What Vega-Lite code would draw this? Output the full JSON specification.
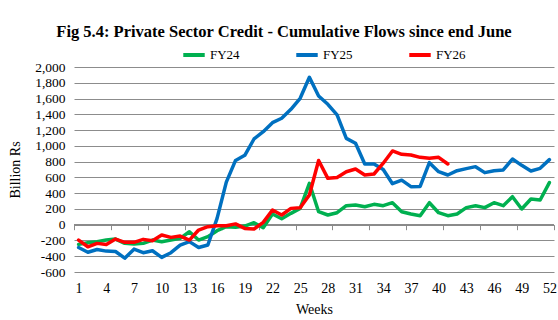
{
  "$schema": "https://vega.github.io/schema/vega-lite/v6.json",
  "width": 480,
  "height": 205,
  "autosize": {"type": "none"},
  "padding": {"left": 74, "top": 67, "right": 4, "bottom": 48},
  "background": "white",
  "title": {
    "text": "Fig 5.4: Private Sector Credit - Cumulative Flows since end June",
    "font": "Liberation Serif",
    "fontSize": 16.5,
    "fontWeight": "bold",
    "color": "#000000",
    "anchor": "middle",
    "frame": "group",
    "dx": -30,
    "offset": 2
  },
  "config": {
    "view": {"stroke": null},
    "font": "Liberation Serif",
    "axisY": {
      "labelOverlap": false,
      "ticks": false,
      "domain": false,
      "grid": true,
      "gridColor": "#8c8c8c",
      "gridWidth": 1,
      "labelFont": "Liberation Serif",
      "labelFontSize": 13.5,
      "labelColor": "#000000",
      "labelPadding": 9,
      "titleFont": "Liberation Serif",
      "titleFontSize": 14,
      "titleFontWeight": "normal",
      "titleColor": "#000000",
      "titlePadding": 12
    }
  },
  "datasets": {
    "credit": [
      {"week": 1, "series": "FY24", "value": -250}, {"week": 2, "series": "FY24", "value": -228}, {"week": 3, "series": "FY24", "value": -216}, {"week": 4, "series": "FY24", "value": -195}, {"week": 5, "series": "FY24", "value": -182}, {"week": 6, "series": "FY24", "value": -237}, {"week": 7, "series": "FY24", "value": -245}, {"week": 8, "series": "FY24", "value": -237}, {"week": 9, "series": "FY24", "value": -195}, {"week": 10, "series": "FY24", "value": -216}, {"week": 11, "series": "FY24", "value": -195}, {"week": 12, "series": "FY24", "value": -173}, {"week": 13, "series": "FY24", "value": -89}, {"week": 14, "series": "FY24", "value": -195}, {"week": 15, "series": "FY24", "value": -152}, {"week": 16, "series": "FY24", "value": -76}, {"week": 17, "series": "FY24", "value": -25}, {"week": 18, "series": "FY24", "value": -34}, {"week": 19, "series": "FY24", "value": -17}, {"week": 20, "series": "FY24", "value": 25}, {"week": 21, "series": "FY24", "value": -38}, {"week": 22, "series": "FY24", "value": 135}, {"week": 23, "series": "FY24", "value": 76}, {"week": 24, "series": "FY24", "value": 144}, {"week": 25, "series": "FY24", "value": 207}, {"week": 26, "series": "FY24", "value": 525}, {"week": 27, "series": "FY24", "value": 165}, {"week": 28, "series": "FY24", "value": 123}, {"week": 29, "series": "FY24", "value": 152}, {"week": 30, "series": "FY24", "value": 241}, {"week": 31, "series": "FY24", "value": 250}, {"week": 32, "series": "FY24", "value": 228}, {"week": 33, "series": "FY24", "value": 258}, {"week": 34, "series": "FY24", "value": 241}, {"week": 35, "series": "FY24", "value": 279}, {"week": 36, "series": "FY24", "value": 165}, {"week": 37, "series": "FY24", "value": 135}, {"week": 38, "series": "FY24", "value": 114}, {"week": 39, "series": "FY24", "value": 279}, {"week": 40, "series": "FY24", "value": 152}, {"week": 41, "series": "FY24", "value": 114}, {"week": 42, "series": "FY24", "value": 135}, {"week": 43, "series": "FY24", "value": 216}, {"week": 44, "series": "FY24", "value": 241}, {"week": 45, "series": "FY24", "value": 216}, {"week": 46, "series": "FY24", "value": 279}, {"week": 47, "series": "FY24", "value": 241}, {"week": 48, "series": "FY24", "value": 355}, {"week": 49, "series": "FY24", "value": 199}, {"week": 50, "series": "FY24", "value": 326}, {"week": 51, "series": "FY24", "value": 313}, {"week": 52, "series": "FY24", "value": 533},
      {"week": 1, "series": "FY25", "value": -290}, {"week": 2, "series": "FY25", "value": -350}, {"week": 3, "series": "FY25", "value": -315}, {"week": 4, "series": "FY25", "value": -335}, {"week": 5, "series": "FY25", "value": -340}, {"week": 6, "series": "FY25", "value": -425}, {"week": 7, "series": "FY25", "value": -310}, {"week": 8, "series": "FY25", "value": -355}, {"week": 9, "series": "FY25", "value": -330}, {"week": 10, "series": "FY25", "value": -415}, {"week": 11, "series": "FY25", "value": -355}, {"week": 12, "series": "FY25", "value": -260}, {"week": 13, "series": "FY25", "value": -215}, {"week": 14, "series": "FY25", "value": -290}, {"week": 15, "series": "FY25", "value": -257}, {"week": 16, "series": "FY25", "value": 80}, {"week": 17, "series": "FY25", "value": 540}, {"week": 18, "series": "FY25", "value": 815}, {"week": 19, "series": "FY25", "value": 880}, {"week": 20, "series": "FY25", "value": 1087}, {"week": 21, "series": "FY25", "value": 1180}, {"week": 22, "series": "FY25", "value": 1294}, {"week": 23, "series": "FY25", "value": 1350}, {"week": 24, "series": "FY25", "value": 1464}, {"week": 25, "series": "FY25", "value": 1603}, {"week": 26, "series": "FY25", "value": 1870}, {"week": 27, "series": "FY25", "value": 1633}, {"week": 28, "series": "FY25", "value": 1527}, {"week": 29, "series": "FY25", "value": 1392}, {"week": 30, "series": "FY25", "value": 1095}, {"week": 31, "series": "FY25", "value": 1032}, {"week": 32, "series": "FY25", "value": 770}, {"week": 33, "series": "FY25", "value": 770}, {"week": 34, "series": "FY25", "value": 700}, {"week": 35, "series": "FY25", "value": 520}, {"week": 36, "series": "FY25", "value": 565}, {"week": 37, "series": "FY25", "value": 482}, {"week": 38, "series": "FY25", "value": 485}, {"week": 39, "series": "FY25", "value": 787}, {"week": 40, "series": "FY25", "value": 672}, {"week": 41, "series": "FY25", "value": 630}, {"week": 42, "series": "FY25", "value": 685}, {"week": 43, "series": "FY25", "value": 711}, {"week": 44, "series": "FY25", "value": 736}, {"week": 45, "series": "FY25", "value": 660}, {"week": 46, "series": "FY25", "value": 685}, {"week": 47, "series": "FY25", "value": 694}, {"week": 48, "series": "FY25", "value": 833}, {"week": 49, "series": "FY25", "value": 753}, {"week": 50, "series": "FY25", "value": 681}, {"week": 51, "series": "FY25", "value": 715}, {"week": 52, "series": "FY25", "value": 825},
      {"week": 1, "series": "FY26", "value": -195}, {"week": 2, "series": "FY26", "value": -280}, {"week": 3, "series": "FY26", "value": -237}, {"week": 4, "series": "FY26", "value": -250}, {"week": 5, "series": "FY26", "value": -182}, {"week": 6, "series": "FY26", "value": -224}, {"week": 7, "series": "FY26", "value": -224}, {"week": 8, "series": "FY26", "value": -186}, {"week": 9, "series": "FY26", "value": -203}, {"week": 10, "series": "FY26", "value": -131}, {"week": 11, "series": "FY26", "value": -161}, {"week": 12, "series": "FY26", "value": -144}, {"week": 13, "series": "FY26", "value": -195}, {"week": 14, "series": "FY26", "value": -68}, {"week": 15, "series": "FY26", "value": -25}, {"week": 16, "series": "FY26", "value": -13}, {"week": 17, "series": "FY26", "value": -13}, {"week": 18, "series": "FY26", "value": 10}, {"week": 19, "series": "FY26", "value": -47}, {"week": 20, "series": "FY26", "value": -55}, {"week": 21, "series": "FY26", "value": 30}, {"week": 22, "series": "FY26", "value": 186}, {"week": 23, "series": "FY26", "value": 123}, {"week": 24, "series": "FY26", "value": 207}, {"week": 25, "series": "FY26", "value": 216}, {"week": 26, "series": "FY26", "value": 376}, {"week": 27, "series": "FY26", "value": 815}, {"week": 28, "series": "FY26", "value": 588}, {"week": 29, "series": "FY26", "value": 600}, {"week": 30, "series": "FY26", "value": 672}, {"week": 31, "series": "FY26", "value": 706}, {"week": 32, "series": "FY26", "value": 630}, {"week": 33, "series": "FY26", "value": 643}, {"week": 34, "series": "FY26", "value": 780}, {"week": 35, "series": "FY26", "value": 935}, {"week": 36, "series": "FY26", "value": 892}, {"week": 37, "series": "FY26", "value": 884}, {"week": 38, "series": "FY26", "value": 854}, {"week": 39, "series": "FY26", "value": 842}, {"week": 40, "series": "FY26", "value": 854}, {"week": 41, "series": "FY26", "value": 770}
    ]
  },
  "data": {"name": "credit"},
  "resolve": {"axis": {"x": "independent"}},
  "layer": [
    {
      "mark": {"type": "rule", "color": "#8c8c8c", "strokeWidth": 1},
      "encoding": {
        "x": {
          "datum": 0.5,
          "type": "quantitative",
          "scale": {"domain": [0.5, 52.5], "nice": false, "zero": false},
          "axis": {
            "orient": "bottom",
            "values": [0.5, 4.5, 8.5, 12.5, 16.5, 20.5, 24.5, 28.5, 32.5, 36.5, 40.5, 44.5, 48.5, 52.5],
            "labels": false,
            "ticks": true,
            "tickSize": 5,
            "tickColor": "#8c8c8c",
            "domain": false,
            "grid": false,
            "title": null,
            "offset": -47.3
          }
        },
        "x2": {"datum": 52.5},
        "y": {
          "datum": 0,
          "type": "quantitative",
          "scale": {"domain": [-600, 2000], "nice": false, "zero": false},
          "axis": {
            "title": "Billion Rs",
            "values": [-600, -400, -200, 0, 200, 400, 600, 800, 1000, 1200, 1400, 1600, 1800, 2000],
            "labelExpr": "replace(format(datum.value, ','), '\u2212', '-')"
          }
        }
      }
    },
    {
      "mark": {"type": "line", "strokeWidth": 3.5, "strokeJoin": "round", "strokeCap": "round"},
      "encoding": {
        "x": {
          "field": "week",
          "type": "quantitative",
          "scale": {"domain": [0.5, 52.5], "nice": false, "zero": false},
          "axis": {
            "orient": "bottom",
            "values": [1, 4, 7, 10, 13, 16, 19, 22, 25, 28, 31, 34, 37, 40, 43, 46, 49, 52],
            "labelOverlap": false,
            "ticks": false,
            "domain": false,
            "grid": false,
            "labelFont": "Liberation Serif",
            "labelFontSize": 14,
            "labelColor": "#000000",
            "labelPadding": 9,
            "title": "Weeks",
            "titleFont": "Liberation Serif",
            "titleFontSize": 14,
            "titleFontWeight": "normal",
            "titleColor": "#000000",
            "titlePadding": 7
          }
        },
        "y": {
          "field": "value",
          "type": "quantitative",
          "scale": {"domain": [-600, 2000], "nice": false, "zero": false},
          "axis": {
            "title": "Billion Rs",
            "values": [-600, -400, -200, 0, 200, 400, 600, 800, 1000, 1200, 1400, 1600, 1800, 2000],
            "labelExpr": "replace(format(datum.value, ','), '\u2212', '-')"
          }
        },
        "color": {
          "field": "series",
          "type": "nominal",
          "scale": {"domain": ["FY24", "FY25", "FY26"], "range": ["#00B050", "#0070C0", "#FF0000"]},
          "legend": {
            "title": null,
            "orient": "none",
            "direction": "horizontal",
            "legendX": 107,
            "legendY": -25,
            "symbolType": "stroke",
            "symbolStrokeWidth": 4,
            "symbolSize": 460,
            "labelFont": "Liberation Serif",
            "labelFontSize": 13,
            "labelColor": "#000000",
            "labelOffset": 3,
            "columnPadding": 48
          }
        }
      }
    }
  ]
}
